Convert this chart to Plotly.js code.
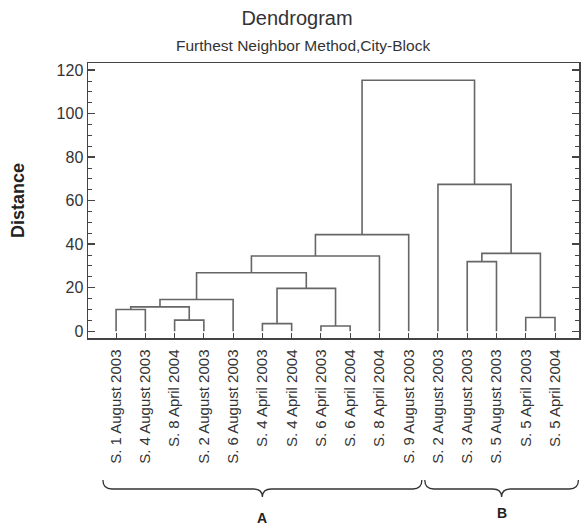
<!DOCTYPE html>
<html>
<head>
<meta charset="utf-8">
<script src="https://cdn.plot.ly/plotly-3.0.1.min.js"></script>
<style>html,body{margin:0;padding:0;background:#fff;}#chart{width:581px;height:525px;}</style>
</head>
<body>
<div id="chart"></div>
<script>
// Leaves in dendrogram order
const leafLabels = [
  'S. 1 August 2003', 'S. 4 August 2003', 'S. 8 April 2004', 'S. 2 August 2003',
  'S. 6 August 2003', 'S. 4 April 2003', 'S. 4 April 2004', 'S. 6 April 2003',
  'S. 6 April 2004', 'S. 8 April 2004', 'S. 9 August 2003', 'S. 2 August 2003',
  'S. 3 August 2003', 'S. 5 August 2003', 'S. 5 April 2003', 'S. 5 April 2004'
];
// Linkage: cluster ids 0..15 are leaves, new clusters numbered 16, 17, ...
const mergeLeft   = [0,  2,  16, 18, 5,  7,  20, 19, 23, 24, 12, 14, 26, 11, 25];
const mergeRight  = [1,  3,  17, 4,  6,  8,  21, 22, 9,  10, 13, 15, 27, 28, 29];
const mergeHeight = [10.0, 5.1, 11.2, 14.6, 3.5, 2.4, 19.7, 26.9, 34.6, 44.4, 32.0, 6.3, 35.8, 67.5, 115.4];
// Groups marked with braces below the labels
const groupNames = ['A', 'B'];
const groupFirst = [0, 11];
const groupLast  = [10, 15];

const yTickVals = [0, 20, 40, 60, 80, 100, 120];

// build dendrogram segments
const pos = leafLabels.map((_, i) => i);
const hgt = leafLabels.map(() => 0);
const xs = [], ys = [];
for (let k = 0; k < mergeLeft.length; k++) {
  const a = mergeLeft[k], b = mergeRight[k], h = mergeHeight[k];
  xs.push(pos[a], pos[a], pos[b], pos[b], null);
  ys.push(hgt[a], h, h, hgt[b], null);
  pos.push((pos[a] + pos[b]) / 2);
  hgt.push(h);
}

const xRange = [-0.96, 15.82];
const yRange = [-3.1, 123.3];
const M = {l: 88, r: 2, t: 63, b: 187};
const W = 581, H = 525;
const pw = W - M.l - M.r, ph = H - M.t - M.b;
const px2paperX = px => (px - M.l) / pw;
const py2paperY = py => (H - M.b - py) / ph;
const d2paperX = x => (x - xRange[0]) / (xRange[1] - xRange[0]);

// braces
const bracePad = [[0.45, 0.45], [0.45, 0.8]];
const shapes = [];
const annotations = [];
const yTop = py2paperY(480), yMid = py2paperY(489), yTip = py2paperY(497);
for (let g = 0; g < groupNames.length; g++) {
  const x0 = d2paperX(groupFirst[g] - bracePad[g][0]);
  const x1 = d2paperX(groupLast[g] + bracePad[g][1]);
  const xm = (x0 + x1) / 2;
  const dx = 9 / pw;
  const p = `M ${x0},${yTop} Q ${x0},${yMid} ${x0 + dx},${yMid} L ${xm - dx},${yMid} Q ${xm},${yMid} ${xm},${yTip} ` +
            `Q ${xm},${yMid} ${xm + dx},${yMid} L ${x1 - dx},${yMid} Q ${x1},${yMid} ${x1},${yTop}`;
  shapes.push({type: 'path', xref: 'paper', yref: 'paper', path: p, line: {color: '#333', width: 1.3}});
  annotations.push({xref: 'paper', yref: 'paper', x: xm, y: py2paperY(g === 0 ? 518 : 513),
    text: '<b>' + groupNames[g] + '</b>', showarrow: false, xanchor: 'center', yanchor: 'middle',
    font: {family: 'Liberation Sans, Arial, sans-serif', size: 14, color: '#222'}});
}
annotations.push({xref: 'paper', yref: 'paper', x: px2paperX(303), y: py2paperY(45),
  text: 'Furthest Neighbor Method,City-Block', showarrow: false, xanchor: 'center', yanchor: 'middle',
  font: {family: 'Liberation Sans, Arial, sans-serif', size: 15.5, color: '#333'}});

const trace = {
  x: xs, y: ys, type: 'scatter', mode: 'lines',
  line: {color: '#666', width: 1.6}, hoverinfo: 'skip', showlegend: false
};

const layout = {
  width: W, height: H,
  margin: M,
  paper_bgcolor: '#fff', plot_bgcolor: '#fff',
  font: {family: 'Liberation Sans, Arial, sans-serif', color: '#333'},
  title: {text: 'Dendrogram', x: 297 / W, xanchor: 'center',
    y: 1 - 18 / H, yanchor: 'middle', yref: 'container', xref: 'container',
    font: {family: 'Liberation Sans, Arial, sans-serif', size: 20, color: '#333'}},
  xaxis: {
    range: xRange, tickmode: 'array', tickvals: leafLabels.map((_, i) => i), ticktext: leafLabels,
    tickangle: -90, ticks: 'inside', ticklen: 5, tickcolor: '#444', tickwidth: 1,
    ticklabelstandoff: 4,
    showline: true, linecolor: '#444', linewidth: 1.5, mirror: true,
    showgrid: false, zeroline: false,
    tickfont: {family: 'Liberation Sans, Arial, sans-serif', size: 15, color: '#333'}
  },
  yaxis: {
    range: yRange, tickmode: 'array', tickvals: yTickVals,
    ticks: 'inside', ticklen: 7, tickcolor: '#444', tickwidth: 1.5,
    minor: {dtick: 5, ticks: 'inside', ticklen: 4, tickcolor: '#444', tickwidth: 1, showgrid: false},
    showline: true, linecolor: '#444', linewidth: 1.5, mirror: 'ticks',
    showgrid: false, zeroline: false,
    tickfont: {family: 'Liberation Sans, Arial, sans-serif', size: 16, color: '#333'},
    title: {text: '<b>Distance</b>', standoff: 27,
      font: {family: 'Liberation Sans, Arial, sans-serif', size: 18, color: '#222'}}
  },
  shapes: shapes,
  annotations: annotations
};

Plotly.newPlot('chart', [trace], layout, {displayModeBar: false, staticPlot: true});
</script>
</body>
</html>
